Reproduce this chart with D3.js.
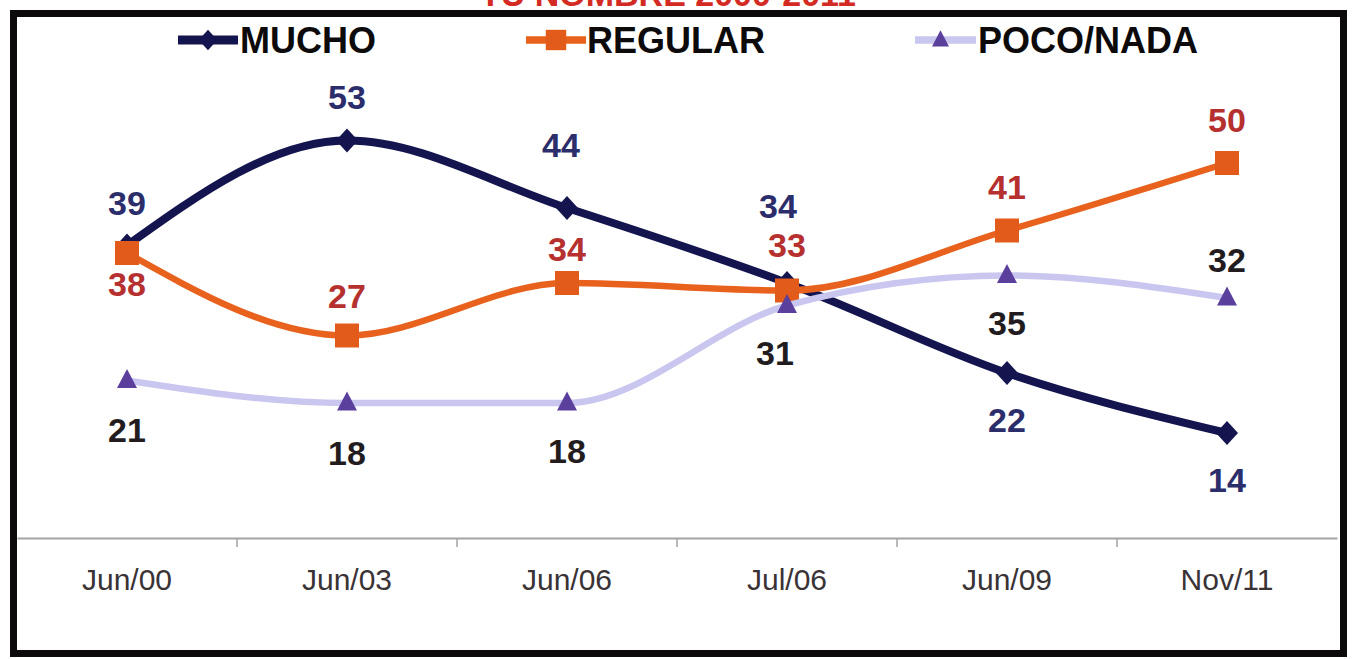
<!DOCTYPE html>
<html>
<head>
<meta charset="utf-8">
<script src="https://cdn.jsdelivr.net/npm/d3@7/dist/d3.min.js"></script>
<style>
  html, body { margin: 0; padding: 0; background: #fff; }
  svg { display: block; }
</style>
</head>
<body>
<svg id="chart" width="1353" height="659"></svg>
<script>
// ---- data ----
const categories = ["Jun/00", "Jun/03", "Jun/06", "Jul/06", "Jun/09", "Nov/11"];
const mucho   = [39, 53, 44, 34, 22, 14];
const regular = [38, 27, 34, 33, 41, 50];
const poco    = [21, 18, 18, 31, 35, 32];
const seriesNames = ["MUCHO", "REGULAR", "POCO/NADA"];
const titleText = "TU NOMBRE 2000-2011";

// ---- layout / style ----
const W = 1353, H = 659;
const svg = d3.select("#chart");
const plot = { left: 17, right: 1337, top: 13, bottom: 538 };

const x = d3.scaleBand().domain(categories).range([plot.left, plot.right]).padding(0);
const y = d3.scaleLinear().domain([0, 70]).range([plot.bottom, plot.top]);

const styles = [
  { name: seriesNames[0], values: mucho,   line: "#14154f", lw: 8, marker: "diamond", mfill: "#14154f", label: "#2c2e6c",
    labelDy: [-43, -44, -63, -77, 47, 47], labelDx: [0, 0, -6, -9, 0, 0] },
  { name: seriesNames[1], values: regular, line: "#e8621e", lw: 6.5, marker: "square", mfill: "#e35b1a", label: "#b5302e",
    labelDy: [31, -40, -34, -46, -44, -43], labelDx: [0, 0, 0, 0, 0, 0] },
  { name: seriesNames[2], values: poco,    line: "#c9c7ef", lw: 6.5, marker: "triangle", mfill: "#5a3f9d", label: "#221c1e",
    labelDy: [49, 50, 48, 47, 47, -38], labelDx: [0, 0, 0, -12, 0, 0] }
];

const cx = c => x(c) + x.bandwidth() / 2;

// title (cut off at top, as in the reference)
svg.append("text")
  .attr("x", 668).attr("y", 6)
  .attr("text-anchor", "middle")
  .attr("font-family", "Liberation Sans, Arial, sans-serif")
  .attr("font-weight", "bold")
  .attr("font-size", 34)
  .attr("fill", "#d42a24")
  .text(titleText);

// frame
svg.append("rect")
  .attr("x", 13.5).attr("y", 13.5)
  .attr("width", 1330).attr("height", 640)
  .attr("fill", "#fff")
  .attr("stroke", "#0d0a0c")
  .attr("stroke-width", 7);

// x axis
const xAxis = d3.axisBottom(x).tickSize(0).tickPadding(0);
const gx = svg.append("g").attr("transform", `translate(0,${plot.bottom})`).call(xAxis);
gx.select(".domain").attr("stroke", "#a3a3a3").attr("stroke-width", 2);
gx.selectAll(".tick text")
  .attr("y", 52)
  .attr("dy", 0)
  .attr("font-family", "Liberation Sans, Arial, sans-serif")
  .attr("font-size", 30)
  .attr("fill", "#3a3336");
// tick marks between categories
gx.selectAll(".sep")
  .data(categories.slice(1))
  .enter().append("line")
  .attr("class", "sep")
  .attr("x1", d => x(d)).attr("x2", d => x(d))
  .attr("y1", 0).attr("y2", 9)
  .attr("stroke", "#a3a3a3").attr("stroke-width", 1.5);

// symbols
function drawMarker(g, type, px, py, fill, scale) {
  const s = scale || 1;
  if (type === "diamond") {
    const w = 11 * s, h = 12 * s;
    g.append("path").attr("d", `M${px},${py - h}L${px + w},${py}L${px},${py + h}L${px - w},${py}Z`).attr("fill", fill);
  } else if (type === "square") {
    const a = 12 * s;
    g.append("rect").attr("x", px - a).attr("y", py - a).attr("width", 2 * a).attr("height", 2 * a).attr("fill", fill);
  } else {
    const w = 10 * s, h = 19 * s;
    g.append("path").attr("d", `M${px},${py - h * 0.6}L${px + w},${py + h * 0.4}L${px - w},${py + h * 0.4}Z`).attr("fill", fill);
  }
}

const line = d3.line().x((d, i) => cx(categories[i])).y(d => y(d)).curve(d3.curveMonotoneX);

// lines + markers (draw order: mucho, regular, poco)
styles.forEach(s => {
  const g = svg.append("g");
  g.append("path")
    .attr("d", line(s.values))
    .attr("fill", "none")
    .attr("stroke", s.line)
    .attr("stroke-width", s.lw)
    .attr("stroke-linecap", "round");
  s.values.forEach((v, i) => drawMarker(g, s.marker, cx(categories[i]), y(v), s.mfill, 1));
});

// data labels
styles.forEach(s => {
  svg.append("g").selectAll("text")
    .data(s.values)
    .enter().append("text")
    .attr("x", (d, i) => cx(categories[i]) + s.labelDx[i])
    .attr("y", (d, i) => y(d) + s.labelDy[i] + 12)
    .attr("text-anchor", "middle")
    .attr("font-family", "Liberation Sans, Arial, sans-serif")
    .attr("font-weight", "bold")
    .attr("font-size", 34)
    .attr("fill", s.label)
    .text(d => d);
});

// legend
const legendItems = [
  { s: styles[0], x0: 178, x1: 238, tx: 240 },
  { s: styles[1], x0: 526, x1: 586, tx: 587 },
  { s: styles[2], x0: 915, x1: 976, tx: 978 }
];
const ly = 40;
legendItems.forEach(it => {
  const g = svg.append("g");
  g.append("line")
    .attr("x1", it.x0).attr("x2", it.x1)
    .attr("y1", ly).attr("y2", ly)
    .attr("stroke", it.s.line).attr("stroke-width", it.s.lw + 1);
  drawMarker(g, it.s.marker, (it.x0 + it.x1) / 2 + (it.s.marker === "triangle" ? -5 : 0), ly, it.s.mfill, 0.85);
  g.append("text")
    .attr("x", it.tx).attr("y", ly + 13)
    .attr("font-family", "Liberation Sans, Arial, sans-serif")
    .attr("font-weight", "bold")
    .attr("font-size", 36)
    .attr("fill", "#0c0a0b")
    .text(it.s.name);
});
</script>
</body>
</html>
